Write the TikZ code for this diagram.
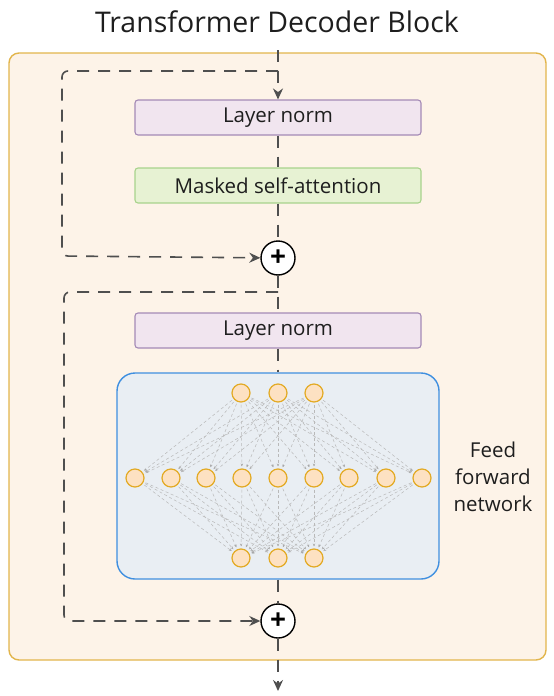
\documentclass[tikz,border=0pt]{standalone}
\usepackage{fontspec}
\setmainfont{Open Sans}
\usetikzlibrary{arrows.meta}
\definecolor{blockfill}{HTML}{FDF3E8}
\definecolor{blockline}{HTML}{E2B54C}
\definecolor{normfill}{HTML}{F1E5EF}
\definecolor{normline}{HTML}{A48AB6}
\definecolor{attnfill}{HTML}{E7F2D3}
\definecolor{attnline}{HTML}{A8D38C}
\definecolor{ffnfill}{HTML}{E9EEF3}
\definecolor{ffnline}{HTML}{3F8FE0}
\definecolor{unitfill}{HTML}{FDE1C2}
\definecolor{unitline}{HTML}{E3AA24}
\definecolor{ink}{HTML}{1E1E1E}
\definecolor{wire}{HTML}{4F4F4F}
\tikzset{
    layerbox/.style={rectangle, rounded corners=3pt, minimum width=286pt,
        minimum height=35pt, line width=1.1pt, text=ink,
        font=\fontsize{20.5}{24}\selectfont},
    unit/.style={circle, draw=unitline, fill=unitfill, line width=1.2pt,
        minimum size=18pt, inner sep=0pt},
    addnode/.style={circle, draw=black, fill=white, line width=1.4pt,
        minimum size=34pt, inner sep=0pt, font=\fontsize{28}{28}\selectfont\bfseries},
    flow/.style={draw=wire, line width=1.6pt, dash pattern=on 12pt off 9pt},
    conn/.style={draw=gray!55, line width=0.5pt, dash pattern=on 3pt off 2.5pt,
        shorten >=2pt, shorten <=2pt, -{Stealth[length=3pt,width=2.5pt]}},
    tip/.style={-{Stealth[length=11pt,width=10pt]}}
}

\begin{document}
\begin{tikzpicture}[x=1pt, y=-1pt]
	\useasboundingbox (0,0) rectangle (554,696);

	% outer block
	\node (block) [draw=blockline, fill=blockfill, line width=1.4pt, rounded corners=10pt,
		minimum width=537pt, minimum height=607pt] at (277.5, 356.5) {};
	\node (title) [text=ink, font=\fontsize{28.5}{32}\selectfont] at (277, 22) {Transformer Decoder Block};

	% sublayers
	\node (ln1) [layerbox, draw=normline, fill=normfill] at (278, 117.5) {Layer norm};
	\node (msa) [layerbox, draw=attnline, fill=attnfill] at (278, 185.5) {Masked self-attention};
	\node (add1) [addnode] at (278, 258) {+};
	\node (ln2) [layerbox, draw=normline, fill=normfill] at (278, 330.5) {Layer norm};
	\node (ffn) [draw=ffnline, fill=ffnfill, line width=1.4pt, rounded corners=18pt,
		minimum width=322pt, minimum height=206pt] at (278, 476) {};
	\node (add2) [addnode] at (278, 621) {+};
	\node (fflabel) [text=ink, align=center, font=\fontsize{20.5}{27}\selectfont] at (493, 477)
		{Feed\\forward\\network};

	\coordinate (in) at (278, 50);
	\coordinate (out) at (278, 691);
	\coordinate (split1) at (278, 71);
	\coordinate (split2) at (278, 292);
	\coordinate (c1) at (62, 256);
	\coordinate (c2) at (64, 621);

	% neurons
	\node (t1) [unit] at (241, 393) {};
	\node (t2) [unit] at (278, 393) {};
	\node (t3) [unit] at (314, 393) {};
	\node (m1) [unit] at (135, 478) {};
	\node (m2) [unit] at (171, 478) {};
	\node (m3) [unit] at (206, 478) {};
	\node (m4) [unit] at (242, 478) {};
	\node (m5) [unit] at (278, 478) {};
	\node (m6) [unit] at (314, 478) {};
	\node (m7) [unit] at (349, 478) {};
	\node (m8) [unit] at (386, 478) {};
	\node (m9) [unit] at (422, 478) {};
	\node (b1) [unit] at (241, 558) {};
	\node (b2) [unit] at (278, 558) {};
	\node (b3) [unit] at (314, 558) {};

	\path [conn] (t1) edge (m1) edge (m2) edge (m3) edge (m4) edge (m5) edge (m6) edge (m7) edge (m8) edge (m9);
	\path [conn] (t2) edge (m1) edge (m2) edge (m3) edge (m4) edge (m5) edge (m6) edge (m7) edge (m8) edge (m9);
	\path [conn] (t3) edge (m1) edge (m2) edge (m3) edge (m4) edge (m5) edge (m6) edge (m7) edge (m8) edge (m9);
	\path [conn] (m1) edge (b1) edge (b2) edge (b3);
	\path [conn] (m2) edge (b1) edge (b2) edge (b3);
	\path [conn] (m3) edge (b1) edge (b2) edge (b3);
	\path [conn] (m4) edge (b1) edge (b2) edge (b3);
	\path [conn] (m5) edge (b1) edge (b2) edge (b3);
	\path [conn] (m6) edge (b1) edge (b2) edge (b3);
	\path [conn] (m7) edge (b1) edge (b2) edge (b3);
	\path [conn] (m8) edge (b1) edge (b2) edge (b3);
	\path [conn] (m9) edge (b1) edge (b2) edge (b3);

	% main path
	\draw [flow, tip] (in) -- (ln1);
	\draw [flow] (ln1) -- (msa);
	\draw [flow] (msa) -- (add1);
	\draw [flow] (add1) -- (ln2);
	\draw [flow] (ln2) -- (ffn);
	\draw [flow] (ffn) -- (add2);
	\draw [flow, tip] (add2) -- (out);

	% residual paths
	\draw [flow, tip, rounded corners=6pt] (split1) -| (c1) -- (add1);
	\draw [flow, tip, rounded corners=6pt] (split2) -| (c2) -- (add2);
\end{tikzpicture}
\end{document}
